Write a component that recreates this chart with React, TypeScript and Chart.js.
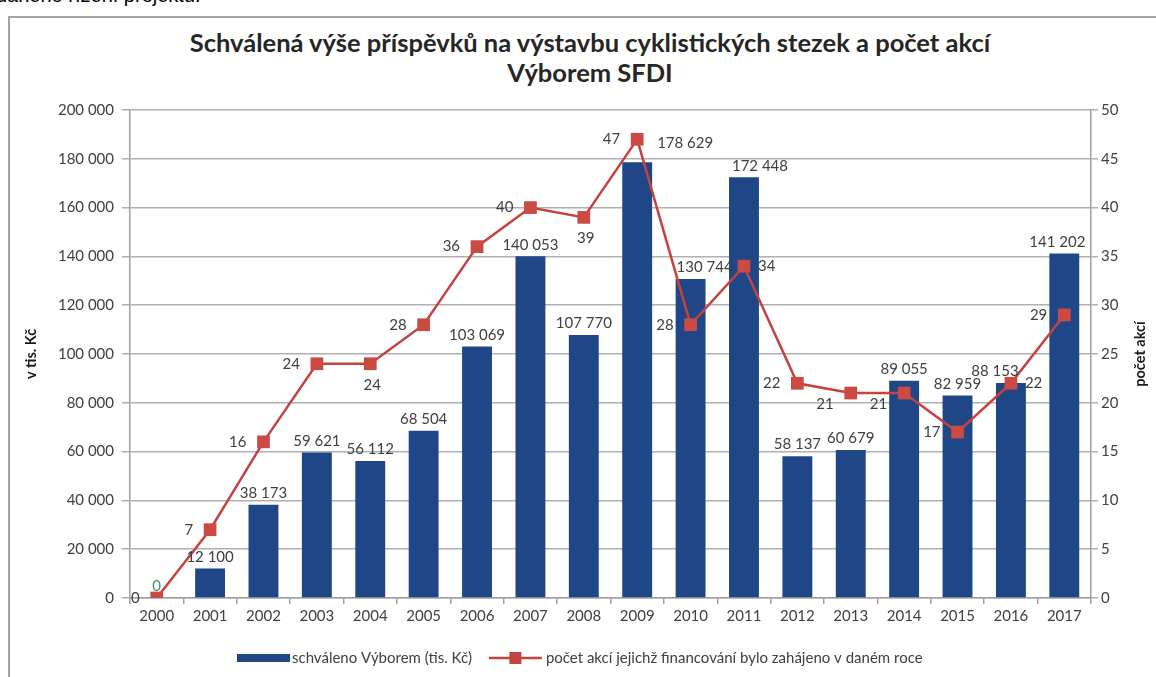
import React, { useEffect, useRef } from "react";
import { Chart, registerables } from "chart.js";

Chart.register(...registerables);

const TITLE_LINES = [
  "Schválená výše příspěvků na výstavbu cyklistických stezek a počet akcí",
  "Výborem SFDI",
];
const CUT_TEXT = "daného řízení projektu.";
const YEARS = [
  "2000", "2001", "2002", "2003", "2004", "2005", "2006", "2007", "2008",
  "2009", "2010", "2011", "2012", "2013", "2014", "2015", "2016", "2017",
];
const APPROVED = [
  0, 12100, 38173, 59621, 56112, 68504, 103069, 140053, 107770,
  178629, 130744, 172448, 58137, 60679, 89055, 82959, 88153, 141202,
];
const ACTIONS = [0, 7, 16, 24, 24, 28, 36, 40, 39, 47, 28, 34, 22, 21, 21, 17, 22, 29];
const LEFT_MAX = 200000;
const LEFT_STEP = 20000;
const RIGHT_MAX = 50;
const RIGHT_STEP = 5;
const BAR_LABEL = "schváleno Výborem (tis. Kč)";
const LINE_LABEL = "počet akcí jejichž financování bylo zahájeno v daném roce";
const LEFT_AXIS_TITLE = "v tis. Kč";
const RIGHT_AXIS_TITLE = "počet akcí";

const FONT = "Lato, 'Open Sans', sans-serif";
const BAR_COLOR = "#1f4788";
const LINE_COLOR = "#c4433f";
const TEXT_COLOR = "#404040";
const GRID_COLOR = "#b0b0b0";

const fmt = (v: number) => String(v).replace(/\B(?=(\d{3})+(?!\d))/g, " ");

// label placement for line points (style, not data)
const LINE_PLACEMENT = [
  "left", "left", "left", "left", "below", "left", "left", "left", "below",
  "left", "left", "right", "left", "belowleft", "belowleft", "left", "right", "left",
];
const BAR_LABEL_SHIFT: Record<number, [number, number]> = {
  9: [48, -7],
  10: [14, 0],
  11: [16, 0],
  16: [-16, 0],
  17: [-7, 0],
};

const labelsPlugin = {
  id: "customLabels",
  afterDatasetsDraw(chart: any) {
    const ctx = chart.ctx as CanvasRenderingContext2D;
    ctx.save();
    ctx.font = `15px ${FONT}`;
    // bar labels
    const barMeta = chart.getDatasetMeta(1);
    barMeta.data.forEach((el: any, i: number) => {
      const v = APPROVED[i];
      const shift = BAR_LABEL_SHIFT[i] || [0, 0];
      ctx.textAlign = "center";
      ctx.textBaseline = "bottom";
      ctx.fillStyle = v === 0 ? "#4f8f6f" : TEXT_COLOR;
      ctx.fillText(fmt(v), el.x + shift[0], el.y - 4 + shift[1]);
    });
    ctx.fillStyle = TEXT_COLOR;
    const lineMeta = chart.getDatasetMeta(0);
    lineMeta.data.forEach((el: any, i: number) => {
      const t = String(ACTIONS[i]);
      const p = LINE_PLACEMENT[i];
      ctx.textBaseline = "middle";
      if (p === "left") {
        ctx.textAlign = "right";
        ctx.fillText(t, el.x - 17, el.y);
      } else if (p === "right") {
        ctx.textAlign = "left";
        ctx.fillText(t, el.x + 14, el.y);
      } else if (p === "belowleft") {
        ctx.textAlign = "right";
        ctx.fillText(t, el.x - 17, el.y + 11);
      } else {
        ctx.textAlign = "center";
        ctx.fillText(t, el.x + 2, el.y + 21);
      }
    });
    ctx.restore();
  },
  afterDraw(chart: any) {
    const ctx = chart.ctx as CanvasRenderingContext2D;
    const area = chart.chartArea;
    ctx.save();
    // right axis title
    ctx.font = `bold 14.5px ${FONT}`;
    ctx.fillStyle = "#1a1a1a";
    ctx.translate(1140, (area.top + area.bottom) / 2);
    ctx.rotate(-Math.PI / 2);
    ctx.textAlign = "center";
    ctx.textBaseline = "middle";
    ctx.fillText(RIGHT_AXIS_TITLE, 0, 0);
    ctx.restore();

    // legend
    ctx.save();
    const ly = 658;
    let x = 237;
    ctx.font = `15px ${FONT}`;
    ctx.textBaseline = "middle";
    ctx.textAlign = "left";
    ctx.fillStyle = BAR_COLOR;
    ctx.fillRect(x, ly - 4, 53, 8);
    x += 55;
    ctx.fillStyle = TEXT_COLOR;
    ctx.fillText(BAR_LABEL, x, ly);
    x += ctx.measureText(BAR_LABEL).width + 17;
    ctx.strokeStyle = LINE_COLOR;
    ctx.lineWidth = 2.5;
    ctx.beginPath();
    ctx.moveTo(x, ly);
    ctx.lineTo(x + 53, ly);
    ctx.stroke();
    ctx.fillStyle = LINE_COLOR;
    ctx.fillRect(x + 26.5 - 6, ly - 6, 12, 12);
    x += 57;
    ctx.fillStyle = TEXT_COLOR;
    ctx.fillText(LINE_LABEL, x, ly);
    ctx.restore();
  },
};

export default function App() {
  const ref = useRef<HTMLCanvasElement>(null);
  useEffect(() => {
    const chart = new Chart(ref.current as HTMLCanvasElement, {
      type: "bar",
      data: {
        labels: YEARS,
        datasets: [
          {
            type: "line",
            label: LINE_LABEL,
            data: ACTIONS,
            yAxisID: "y1",
            borderColor: LINE_COLOR,
            backgroundColor: LINE_COLOR,
            borderWidth: 2.5,
            pointStyle: "rect",
            pointRadius: 9,
            pointBorderWidth: 0,
            pointBackgroundColor: "#cc4a44",
            order: 0,
          } as any,
          {
            type: "bar",
            label: BAR_LABEL,
            data: APPROVED,
            yAxisID: "y",
            backgroundColor: BAR_COLOR,
            barPercentage: 0.56,
            categoryPercentage: 1,
            order: 1,
          } as any,
        ],
      },
      options: {
        responsive: false,
        animation: false,
        devicePixelRatio: 1,
        layout: { padding: { left: 20, right: 0, top: 110, bottom: 49 } },
        plugins: {
          legend: { display: false },
          title: { display: false },
          tooltip: { enabled: false },
        },
        scales: {
          x: {
            grid: { offset: true, drawOnChartArea: false, tickLength: 6, color: "#a0a0a0", lineWidth: 1.5 },
            border: { color: "#a0a0a0", width: 1.5 },
            ticks: { font: { family: FONT, size: 15 }, color: TEXT_COLOR, padding: 3, maxRotation: 0 },
            afterFit: (s: any) => { s.height = 30; },
          },
          y: {
            position: "left",
            min: 0,
            max: LEFT_MAX,
            ticks: {
              stepSize: LEFT_STEP,
              callback: (v: any) => fmt(Number(v)),
              font: { family: FONT, size: 15 },
              color: TEXT_COLOR,
              padding: 8,
            },
            grid: { color: GRID_COLOR, tickLength: 8, lineWidth: 1.5 },
            border: { color: "#a0a0a0", width: 1.5 },
            title: {
              display: true,
              text: LEFT_AXIS_TITLE,
              font: { family: FONT, size: 14.5, weight: "bold" },
              color: "#1a1a1a",
              padding: 3,
            },
            afterFit: (s: any) => { s.width = 110; },
          },
          y1: {
            position: "right",
            min: 0,
            max: RIGHT_MAX,
            ticks: {
              stepSize: RIGHT_STEP,
              font: { family: FONT, size: 15 },
              color: TEXT_COLOR,
              padding: 3,
            },
            grid: { drawOnChartArea: false, color: GRID_COLOR, tickLength: 7, lineWidth: 1.5 },
            border: { color: "#a0a0a0", width: 1.5 },
            afterFit: (s: any) => { s.width = 65; },
          },
        },
      } as any,
      plugins: [labelsPlugin],
    });
    return () => chart.destroy();
  }, []);

  return (
    <div style={{ position: "fixed", left: 0, top: 0, width: 1156, height: 677, overflow: "hidden", background: "#fff" }}>
      <div
        style={{
          position: "absolute",
          left: -4,
          top: -15,
          fontFamily: "'Liberation Sans', Arial, sans-serif",
          fontSize: 20,
          lineHeight: "20px",
          color: "#000",
          whiteSpace: "nowrap",
        }}
      >
        {CUT_TEXT}
      </div>
      <div
        style={{
          position: "absolute",
          left: 8,
          top: 16,
          width: 1160,
          height: 680,
          borderLeft: "2px solid #a3a3a3",
          borderTop: "2px solid #a3a3a3",
          background: "#fff",
        }}
      />
      <div
        style={{
          position: "absolute",
          left: 0,
          top: 27,
          width: 1180,
          textAlign: "center",
          fontFamily: FONT,
          fontWeight: "bold",
          fontSize: 25.5,
          lineHeight: "30px",
          color: "#262626",
        }}
      >
        <div>{TITLE_LINES[0]}</div>
        <div>{TITLE_LINES[1]}</div>
      </div>
      <canvas ref={ref} width={1156} height={677} style={{ position: "absolute", left: 0, top: 0 }} />
    </div>
  );
}
